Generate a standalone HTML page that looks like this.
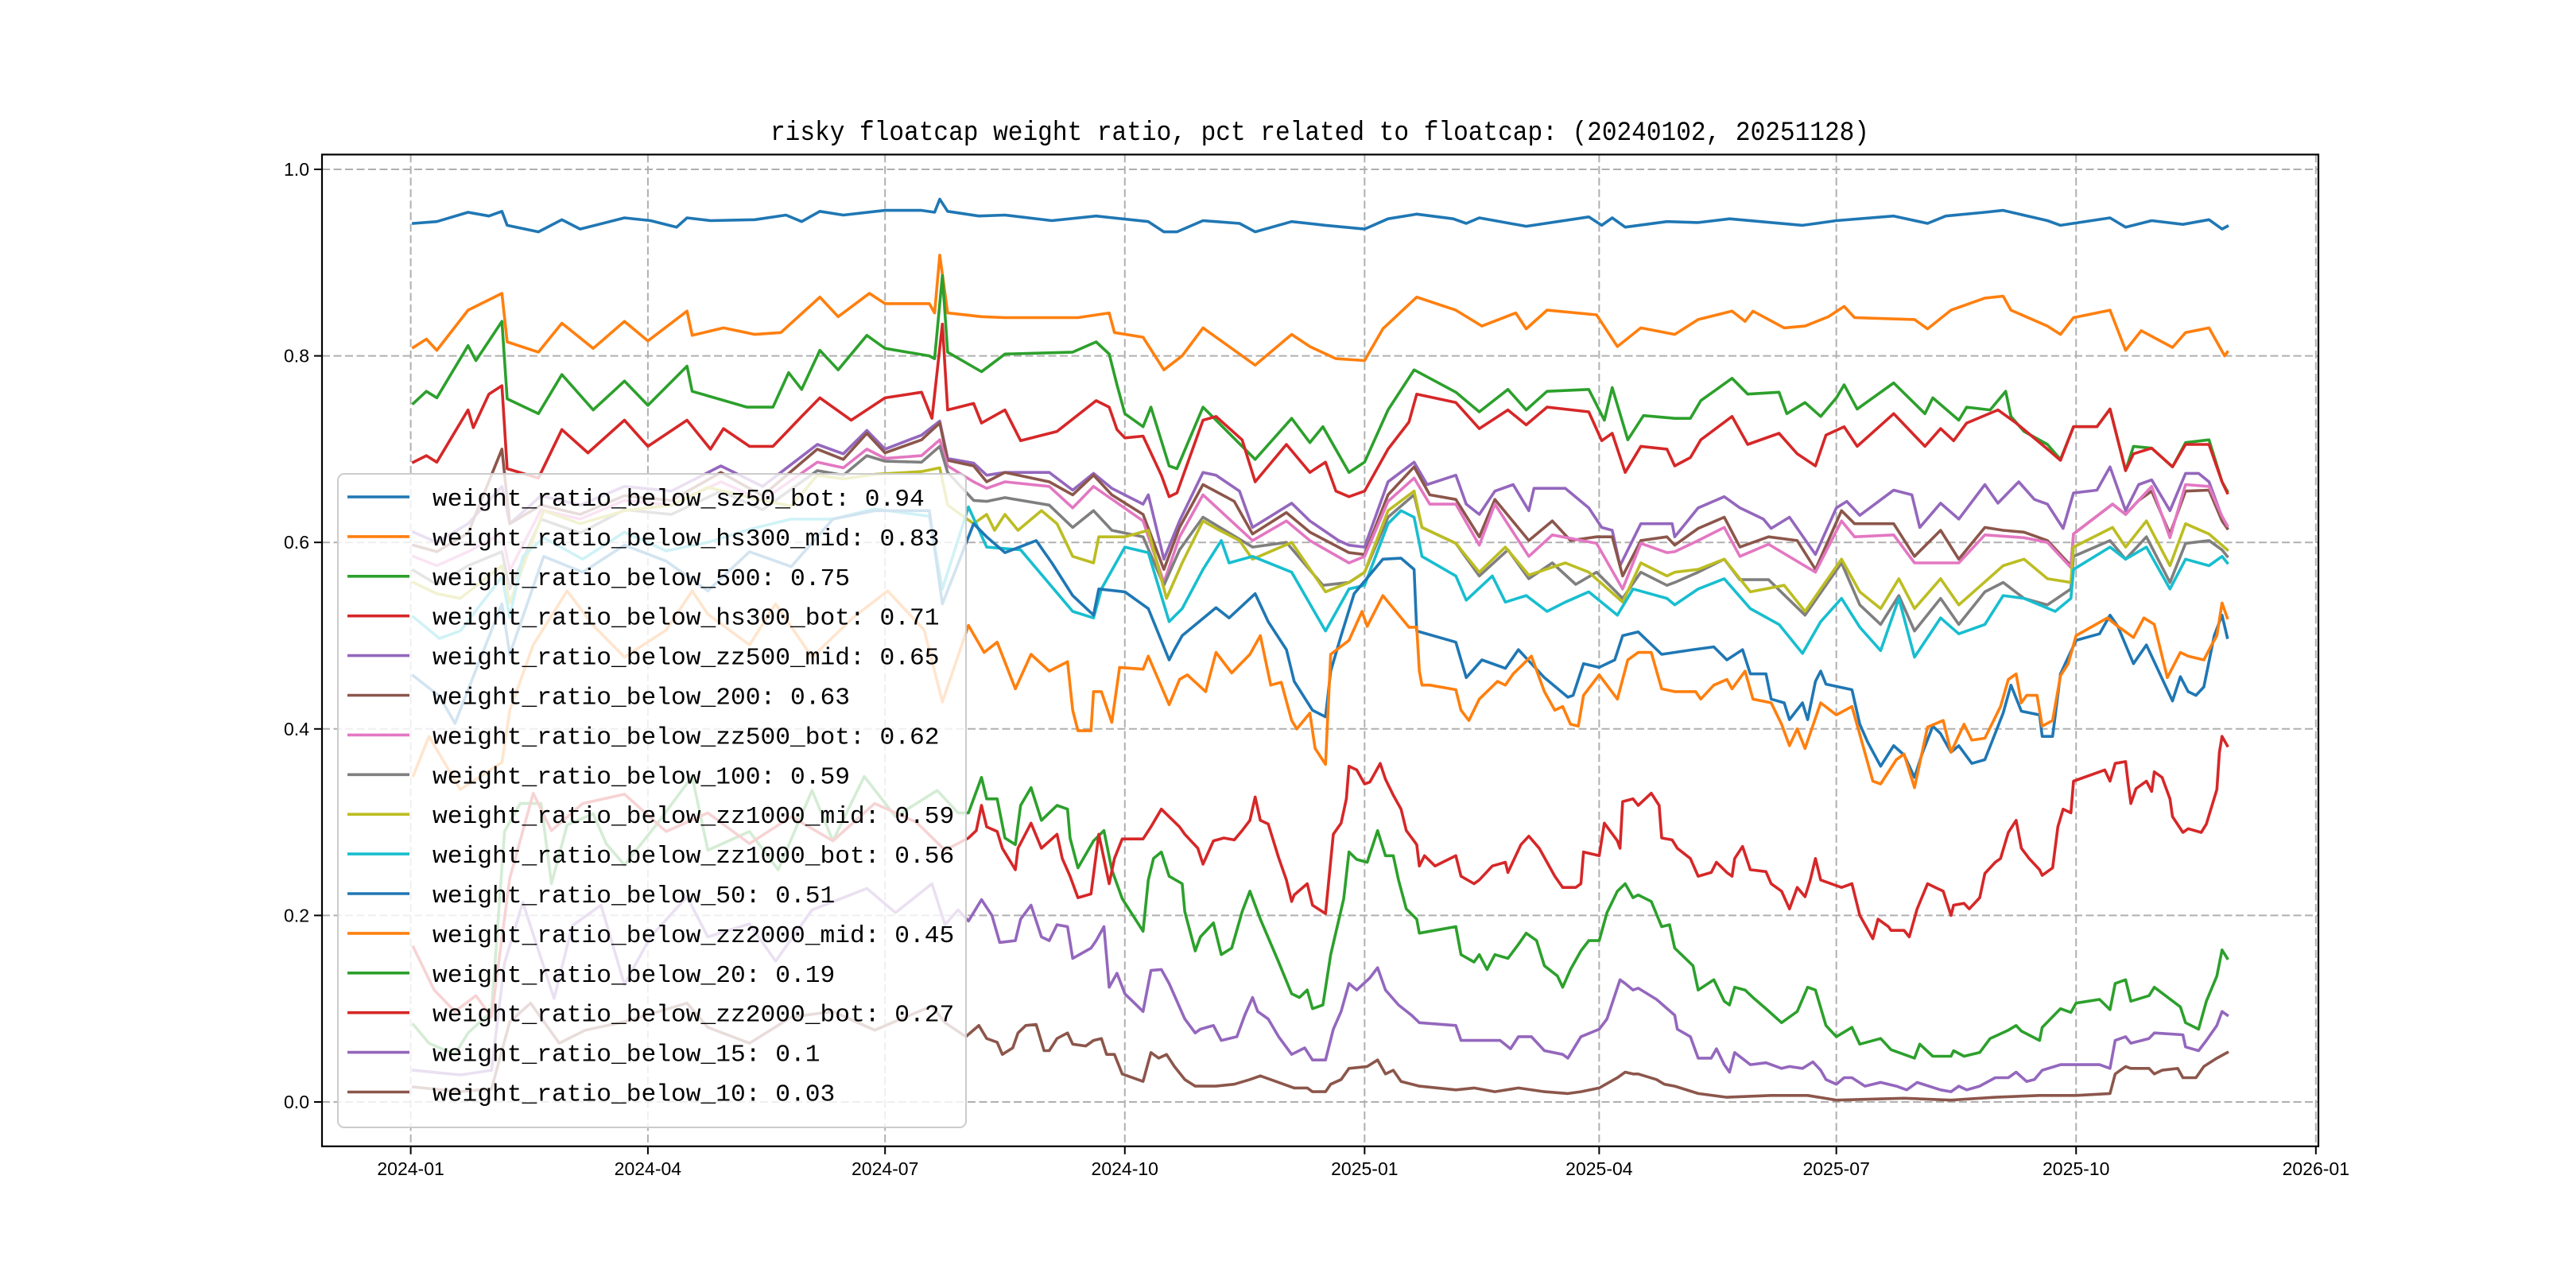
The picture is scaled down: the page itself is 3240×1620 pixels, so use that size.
<!DOCTYPE html>
<html><head><meta charset="utf-8"><title>risky floatcap weight ratio</title>
<style>html,body{margin:0;padding:0;background:#fff}svg{display:block}</style></head>
<body>
<svg id="chart" xmlns="http://www.w3.org/2000/svg" width="3240" height="1620" viewBox="0 0 3240 1620">
<rect x="0" y="0" width="3240" height="1620" fill="#fff"/>
<text x="1660" y="176" text-anchor="middle" font-family="Liberation Mono, monospace" font-size="34" textLength="1382" lengthAdjust="spacingAndGlyphs" fill="#000">risky floatcap weight ratio, pct related to floatcap: (20240102, 20251128)</text>
<g id="grid"></g>
<g id="series"></g>
<rect x="405" y="194.4" width="2511" height="1247.4" fill="none" stroke="#000" stroke-width="2.2"/>
<g id="ticks"></g>
<g id="legend"></g>
</svg>
<script>
const seriesNames = ["weight_ratio_below_sz50_bot","weight_ratio_below_hs300_mid","weight_ratio_below_500","weight_ratio_below_hs300_bot","weight_ratio_below_zz500_mid","weight_ratio_below_200","weight_ratio_below_zz500_bot","weight_ratio_below_100","weight_ratio_below_zz1000_mid","weight_ratio_below_zz1000_bot","weight_ratio_below_50","weight_ratio_below_zz2000_mid","weight_ratio_below_20","weight_ratio_below_zz2000_bot","weight_ratio_below_15","weight_ratio_below_10"];
const lastValues = ["0.94","0.83","0.75","0.71","0.65","0.63","0.62","0.59","0.59","0.56","0.51","0.45","0.19","0.27","0.1","0.03"];
const yTicks = [0.0,0.2,0.4,0.6,0.8,1.0];
const yTickLabels = ["0.0","0.2","0.4","0.6","0.8","1.0"];
const xTickDays = [0,91,182,274,366,456,547,639,731];
const xTickLabels = ["2024-01","2024-04","2024-07","2024-10","2025-01","2025-04","2025-07","2025-10","2026-01"];
// day offsets from 2024-01-01, value
const pts_sz50_bot = [[1,.942],[10,.944],[22,.954],[30,.95],[35,.955],[37,.94],[49,.933],[58,.946],[65,.936],[82,.948],[92,.945],[102,.938],[106,.948],[115,.945],[132,.946],[144,.951],[150,.944],[157,.955],[166,.951],[182,.956],[196,.956],[201,.954],[203,.968],[206,.955],[218,.95],[228,.951],[246,.945],[263,.95],[283,.944],[289,.933],[294,.933],[304,.945],[318,.942],[324,.933],[338,.944],[351,.94],[366,.936],[375,.947],[386,.952],[400,.947],[405,.942],[410,.948],[428,.939],[452,.949],[457,.94],[461,.948],[466,.938],[482,.944],[494,.943],[506,.947],[534,.94],[547,.945],[569,.95],[582,.942],[589,.95],[604,.954],[611,.956],[628,.945],[633,.94],[652,.948],[658,.938],[668,.945],[680,.941],[690,.946],[695,.936],[697,.939]];
const pts_hs300_mid = [[1,.809],[6,.818],[10,.806],[22,.849],[35,.867],[37,.815],[49,.804],[58,.835],[70,.808],[82,.837],[91,.816],[106,.848],[108,.822],[120,.83],[132,.823],[142,.825],[157,.863],[164,.842],[176,.867],[182,.856],[199,.856],[201,.846],[203,.908],[206,.846],[219,.842],[228,.841],[256,.841],[268,.846],[270,.825],[281,.82],[289,.785],[296,.80],[304,.83],[324,.79],[338,.823],[345,.81],[355,.797],[366,.795],[373,.829],[386,.863],[401,.849],[411,.832],[424,.846],[428,.829],[436,.849],[455,.844],[463,.81],[472,.83],[485,.823],[494,.839],[507,.848],[512,.837],[515,.848],[527,.83],[535,.832],[544,.842],[550,.853],[554,.841],[577,.839],[582,.829],[591,.849],[604,.862],[611,.864],[614,.849],[628,.832],[633,.823],[638,.841],[652,.849],[658,.806],[664,.827],[676,.809],[681,.825],[690,.83],[696,.80],[697,.804]];
const pts_500 = [[1,.749],[6,.762],[10,.755],[22,.811],[25,.795],[35,.837],[37,.754],[49,.738],[58,.78],[70,.742],[82,.773],[91,.747],[106,.789],[108,.762],[129,.745],[139,.745],[145,.782],[150,.764],[157,.806],[164,.785],[175,.822],[182,.808],[199,.80],[201,.797],[204,.886],[206,.804],[219,.783],[228,.802],[254,.804],[263,.815],[268,.802],[271,.769],[274,.738],[281,.724],[284,.745],[291,.682],[294,.679],[304,.745],[309,.731],[324,.689],[338,.733],[345,.707],[350,.724],[360,.675],[366,.686],[375,.742],[385,.785],[401,.761],[410,.74],[421,.764],[428,.742],[436,.762],[452,.764],[458,.731],[461,.766],[467,.71],[473,.736],[485,.733],[491,.733],[495,.752],[507,.776],[513,.759],[525,.761],[528,.738],[535,.75],[541,.735],[547,.755],[550,.769],[555,.743],[569,.771],[581,.738],[584,.755],[594,.731],[597,.745],[606,.742],[612,.762],[614,.735],[619,.719],[628,.705],[633,.689],[638,.724],[647,.724],[652,.743],[658,.677],[661,.703],[668,.701],[676,.681],[681,.707],[690,.71],[695,.665],[697,.655]];
const pts_hs300_bot = [[1,.686],[6,.693],[10,.686],[22,.742],[24,.723],[30,.759],[35,.768],[37,.679],[49,.669],[58,.721],[68,.696],[82,.731],[91,.703],[106,.731],[115,.70],[120,.722],[130,.703],[139,.703],[150,.735],[157,.755],[169,.731],[182,.755],[196,.761],[200,.733],[204,.834],[206,.742],[216,.749],[219,.728],[228,.742],[234,.709],[248,.719],[263,.752],[268,.745],[271,.721],[274,.712],[281,.714],[288,.672],[291,.649],[294,.653],[304,.731],[309,.735],[319,.71],[324,.665],[336,.705],[345,.675],[351,.686],[355,.655],[360,.649],[366,.655],[375,.70],[383,.729],[386,.759],[401,.75],[410,.722],[421,.742],[428,.726],[436,.745],[452,.74],[457,.709],[461,.717],[466,.675],[472,.703],[482,.70],[485,.682],[491,.691],[495,.71],[507,.735],[513,.705],[525,.717],[532,.695],[539,.682],[543,.715],[550,.724],[555,.703],[569,.738],[581,.703],[587,.722],[592,.709],[597,.728],[609,.742],[616,.728],[628,.70],[633,.688],[638,.724],[647,.724],[652,.743],[658,.677],[661,.695],[668,.701],[676,.681],[681,.705],[690,.705],[695,.665],[697,.653]];
const pts_zz500_mid = [[1,.611],[10,.60],[22,.62],[35,.66],[38,.62],[50,.65],[65,.64],[82,.66],[100,.655],[119,.682],[135,.66],[156,.705],[166,.695],[175,.72],[182,.70],[196,.715],[203,.73],[206,.69],[216,.685],[221,.672],[228,.675],[245,.675],[254,.656],[262,.674],[269,.658],[281,.641],[283,.651],[289,.582],[295,.623],[304,.675],[309,.672],[318,.655],[323,.616],[338,.642],[345,.623],[356,.602],[360,.597],[366,.595],[375,.665],[385,.686],[390,.662],[401,.672],[405,.641],[410,.63],[416,.655],[423,.662],[429,.634],[431,.658],[443,.658],[452,.637],[457,.616],[461,.613],[464,.575],[472,.62],[484,.62],[485,.606],[494,.637],[504,.649],[510,.637],[519,.625],[522,.615],[529,.627],[539,.587],[547,.637],[551,.644],[556,.629],[569,.656],[576,.651],[579,.616],[587,.642],[594,.625],[604,.662],[609,.642],[617,.665],[623,.646],[628,.641],[634,.615],[638,.653],[647,.656],[652,.681],[658,.634],[663,.662],[668,.667],[675,.634],[681,.674],[686,.674],[690,.665],[695,.627],[697,.615]];
const pts_200 = [[1,.597],[10,.59],[22,.61],[35,.70],[38,.62],[50,.64],[65,.63],[82,.65],[100,.645],[119,.675],[135,.65],[156,.70],[166,.689],[175,.717],[182,.696],[196,.71],[203,.728],[206,.688],[216,.682],[221,.665],[228,.675],[245,.665],[254,.651],[262,.672],[269,.651],[281,.63],[289,.571],[295,.616],[304,.662],[316,.644],[323,.609],[336,.632],[345,.611],[360,.589],[366,.587],[375,.651],[385,.681],[391,.651],[401,.646],[410,.606],[416,.646],[429,.602],[438,.623],[445,.602],[455,.606],[461,.606],[465,.564],[472,.602],[482,.606],[485,.597],[494,.615],[504,.627],[510,.595],[521,.606],[532,.602],[539,.571],[549,.634],[554,.62],[569,.62],[577,.585],[587,.613],[594,.582],[604,.616],[611,.613],[619,.611],[628,.602],[637,.575],[638,.609],[653,.641],[658,.63],[663,.645],[668,.655],[675,.609],[681,.655],[690,.656],[695,.623],[697,.615]];
const pts_zz500_bot = [[1,.585],[10,.575],[22,.59],[35,.61],[38,.57],[50,.635],[65,.625],[82,.645],[100,.64],[119,.665],[135,.645],[156,.686],[166,.68],[175,.70],[182,.69],[196,.693],[203,.71],[206,.682],[216,.665],[221,.658],[228,.665],[245,.66],[254,.637],[262,.66],[281,.623],[289,.557],[295,.606],[304,.651],[323,.602],[336,.623],[345,.602],[360,.578],[366,.585],[375,.644],[385,.669],[391,.641],[401,.641],[410,.597],[416,.641],[429,.585],[438,.608],[455,.599],[465,.55],[472,.599],[482,.589],[485,.59],[494,.602],[504,.616],[510,.585],[521,.598],[539,.568],[549,.623],[554,.606],[569,.608],[577,.578],[594,.578],[604,.608],[619,.605],[628,.60],[637,.573],[638,.609],[653,.641],[658,.63],[663,.645],[668,.66],[675,.605],[681,.662],[690,.66],[695,.628],[697,.618]];
const pts_100 = [[1,.57],[10,.555],[22,.575],[35,.59],[38,.55],[50,.625],[65,.61],[82,.635],[100,.63],[119,.655],[135,.635],[156,.677],[166,.672],[175,.693],[182,.687],[196,.686],[203,.703],[206,.675],[216,.645],[221,.644],[228,.648],[245,.64],[254,.616],[262,.634],[269,.613],[281,.606],[289,.554],[295,.592],[304,.627],[323,.595],[336,.60],[350,.554],[360,.557],[366,.568],[375,.627],[385,.651],[388,.616],[401,.599],[410,.564],[421,.592],[429,.561],[438,.578],[447,.555],[455,.568],[465,.54],[472,.568],[482,.554],[485,.557],[494,.568],[504,.582],[510,.56],[521,.56],[535,.522],[549,.578],[556,.533],[564,.512],[571,.543],[577,.505],[587,.54],[594,.512],[604,.547],[611,.557],[619,.54],[628,.533],[637,.55],[638,.585],[652,.602],[658,.582],[666,.606],[675,.557],[681,.599],[690,.602],[695,.592],[697,.585]];
const pts_zz1000_mid = [[1,.557],[10,.545],[19,.54],[35,.575],[38,.535],[51,.634],[65,.62],[82,.634],[100,.64],[114,.659],[135,.645],[146,.639],[156,.672],[166,.668],[178,.673],[196,.676],[203,.68],[206,.64],[216,.62],[221,.63],[224,.613],[228,.63],[233,.613],[242,.634],[248,.62],[254,.585],[262,.578],[264,.606],[274,.606],[283,.613],[290,.54],[296,.578],[304,.623],[309,.615],[318,.602],[323,.582],[338,.60],[351,.547],[360,.557],[366,.568],[375,.634],[385,.655],[388,.616],[401,.599],[410,.568],[420,.595],[429,.565],[443,.578],[452,.568],[465,.536],[472,.578],[482,.564],[485,.568],[494,.571],[504,.582],[514,.547],[527,.554],[535,.526],[549,.582],[556,.547],[564,.529],[571,.561],[577,.529],[587,.561],[594,.533],[611,.575],[619,.582],[628,.561],[637,.557],[638,.595],[653,.616],[658,.595],[666,.623],[675,.575],[681,.62],[690,.609],[697,.592]];
const pts_zz1000_bot = [[1,.52],[11,.497],[19,.505],[35,.563],[38,.52],[43,.585],[51,.605],[66,.582],[82,.611],[98,.591],[114,.60],[130,.614],[146,.625],[162,.625],[178,.636],[199,.628],[204,.55],[214,.638],[221,.595],[234,.592],[254,.526],[262,.519],[265,.55],[274,.595],[283,.589],[291,.515],[296,.529],[304,.571],[311,.602],[314,.578],[323,.585],[338,.568],[351,.505],[360,.55],[366,.554],[375,.62],[380,.634],[385,.627],[388,.585],[401,.564],[405,.538],[415,.564],[420,.536],[428,.543],[436,.526],[443,.536],[452,.547],[463,.522],[469,.55],[482,.54],[485,.533],[494,.55],[504,.561],[514,.529],[525,.512],[534,.481],[541,.515],[549,.54],[556,.509],[564,.484],[571,.54],[577,.477],[587,.519],[594,.502],[604,.512],[611,.543],[619,.54],[631,.526],[637,.54],[638,.571],[652,.595],[658,.582],[666,.595],[675,.55],[681,.582],[690,.575],[695,.585],[697,.578]];
const pts_50 = [[1,.457],[11,.435],[17,.406],[23,.449],[35,.534],[38,.48],[51,.585],[66,.568],[82,.597],[98,.58],[114,.548],[130,.59],[146,.574],[162,.625],[178,.634],[199,.634],[204,.534],[216,.62],[221,.606],[228,.589],[240,.602],[246,.578],[254,.543],[262,.522],[264,.55],[274,.547],[283,.529],[291,.474],[293,.485],[296,.50],[309,.53],[314,.519],[324,.545],[329,.515],[336,.485],[339,.451],[346,.42],[351,.413],[353,.462],[357,.50],[362,.545],[373,.582],[380,.583],[385,.571],[386,.505],[401,.493],[405,.455],[411,.474],[420,.465],[425,.485],[430,.47],[435,.455],[444,.434],[446,.436],[450,.47],[456,.466],[462,.474],[465,.50],[471,.504],[480,.48],[492,.485],[500,.488],[505,.474],[511,.485],[514,.459],[520,.459],[522,.432],[527,.428],[529,.41],[534,.428],[536,.41],[539,.451],[541,.462],[543,.448],[553,.442],[556,.405],[559,.386],[564,.36],[569,.382],[573,.372],[577,.348],[580,.374],[584,.403],[587,.395],[591,.375],[594,.382],[599,.363],[604,.367],[611,.417],[614,.447],[618,.419],[625,.415],[626,.392],[630,.392],[633,.459],[639,.495],[648,.502],[652,.522],[655,.51],[661,.47],[666,.49],[676,.43],[679,.456],[682,.44],[685,.436],[688,.445],[692,.50],[695,.522],[697,.498]];
const pts_zz2000_mid = [[1,.35],[7,.392],[19,.335],[35,.364],[38,.42],[47,.49],[60,.548],[70,.511],[82,.477],[98,.506],[108,.548],[114,.523],[130,.49],[140,.534],[154,.477],[170,.52],[183,.548],[197,.506],[204,.429],[214,.511],[220,.482],[225,.493],[232,.443],[238,.48],[245,.462],[252,.472],[254,.42],[256,.398],[261,.398],[262,.44],[265,.44],[269,.407],[272,.466],[281,.464],[283,.478],[291,.426],[295,.453],[298,.458],[305,.44],[309,.482],[315,.46],[322,.48],[326,.50],[330,.447],[334,.45],[338,.409],[340,.40],[345,.417],[347,.379],[351,.362],[353,.48],[360,.495],[365,.526],[367,.51],[373,.543],[378,.526],[383,.509],[386,.509],[387,.462],[388,.447],[391,.447],[401,.442],[403,.42],[406,.409],[410,.432],[417,.451],[420,.447],[423,.459],[430,.478],[435,.44],[439,.42],[442,.424],[445,.405],[448,.403],[450,.436],[456,.458],[463,.432],[467,.474],[471,.482],[476,.482],[480,.443],[485,.44],[493,.44],[495,.432],[500,.447],[505,.453],[507,.443],[512,.462],[515,.432],[522,.428],[526,.405],[529,.382],[532,.40],[535,.379],[541,.428],[547,.415],[553,.424],[556,.394],[561,.344],[564,.341],[570,.367],[573,.373],[577,.337],[582,.402],[588,.409],[591,.375],[596,.405],[599,.388],[604,.39],[610,.424],[613,.453],[616,.459],[618,.428],[620,.436],[624,.436],[626,.403],[630,.409],[633,.457],[636,.47],[639,.50],[651,.519],[655,.51],[661,.498],[665,.519],[669,.512],[674,.455],[679,.482],[682,.478],[688,.474],[691,.49],[693,.50],[695,.535],[697,.519]];
const pts_20 = [[1,.083],[7,.063],[17,.051],[22,.074],[31,.097],[36,.29],[42,.32],[50,.32],[54,.234],[60,.297],[70,.309],[75,.277],[82,.254],[95,.30],[108,.349],[114,.27],[130,.29],[141,.249],[154,.334],[162,.28],[174,.349],[186,.306],[202,.334],[210,.31],[214,.31],[219,.348],[221,.325],[225,.325],[228,.283],[232,.276],[234,.318],[238,.337],[242,.302],[248,.318],[252,.314],[253,.283],[256,.251],[262,.28],[266,.291],[269,.249],[273,.218],[281,.183],[283,.238],[285,.261],[288,.268],[291,.242],[296,.234],[297,.204],[301,.162],[303,.177],[308,.192],[311,.158],[315,.165],[319,.204],[322,.226],[326,.196],[333,.15],[338,.116],[341,.112],[344,.12],[346,.10],[350,.104],[353,.158],[358,.218],[360,.268],[363,.26],[367,.257],[371,.291],[374,.264],[377,.264],[379,.238],[382,.207],[386,.196],[387,.181],[393,.184],[401,.188],[403,.158],[408,.15],[410,.158],[413,.142],[416,.158],[421,.154],[425,.169],[428,.181],[432,.173],[435,.146],[440,.135],[442,.123],[445,.142],[449,.162],[452,.173],[456,.173],[459,.203],[463,.226],[466,.234],[469,.219],[471,.222],[476,.215],[480,.188],[483,.19],[485,.165],[492,.146],[494,.12],[500,.131],[504,.108],[506,.104],[508,.123],[512,.12],[515,.112],[520,.10],[526,.085],[532,.097],[536,.123],[539,.12],[543,.082],[547,.07],[553,.08],[556,.062],[564,.068],[568,.056],[577,.047],[579,.062],[584,.049],[591,.049],[592,.055],[596,.049],[602,.053],[606,.068],[613,.077],[616,.082],[618,.076],[625,.066],[626,.08],[633,.10],[637,.096],[639,.106],[648,.11],[652,.099],[654,.127],[658,.131],[660,.108],[667,.114],[669,.123],[679,.102],[681,.085],[686,.078],[689,.108],[693,.135],[695,.163],[697,.154]];
const pts_zz2000_bot = [[1,.166],[9,.12],[17,.097],[25,.114],[31,.091],[38,.24],[47,.331],[54,.291],[66,.32],[82,.33],[98,.29],[114,.31],[130,.277],[146,.306],[162,.28],[178,.32],[194,.30],[205,.27],[214,.283],[217,.291],[219,.318],[221,.295],[225,.29],[227,.272],[232,.249],[233,.272],[238,.299],[242,.272],[248,.287],[250,.261],[253,.242],[256,.219],[261,.223],[264,.287],[268,.234],[270,.261],[273,.282],[281,.282],[284,.295],[288,.314],[295,.295],[297,.287],[302,.272],[304,.255],[308,.28],[312,.283],[316,.281],[319,.291],[322,.302],[324,.327],[326,.302],[329,.298],[333,.262],[336,.238],[338,.215],[339,.222],[344,.234],[346,.211],[351,.202],[354,.287],[357,.299],[359,.325],[360,.36],[363,.356],[366,.341],[368,.343],[372,.363],[374,.346],[377,.329],[380,.314],[382,.291],[386,.276],[387,.253],[389,.264],[393,.253],[401,.264],[403,.242],[408,.234],[410,.238],[415,.253],[420,.257],[421,.246],[426,.276],[429,.285],[433,.272],[436,.257],[439,.242],[442,.23],[447,.23],[449,.234],[450,.268],[456,.264],[458,.299],[463,.28],[464,.272],[465,.322],[469,.325],[471,.318],[476,.331],[479,.318],[480,.283],[484,.281],[486,.272],[491,.261],[494,.242],[499,.246],[501,.257],[505,.246],[507,.242],[508,.261],[511,.274],[514,.249],[520,.247],[522,.234],[526,.226],[529,.207],[532,.23],[535,.22],[537,.238],[539,.261],[541,.238],[543,.236],[549,.23],[553,.234],[556,.20],[561,.175],[563,.196],[567,.188],[568,.184],[573,.184],[575,.177],[578,.207],[582,.234],[585,.23],[588,.226],[591,.20],[592,.211],[596,.213],[598,.207],[602,.219],[604,.245],[608,.257],[610,.261],[613,.289],[616,.302],[618,.272],[621,.261],[625,.249],[626,.243],[630,.251],[632,.295],[634,.314],[637,.31],[638,.344],[650,.356],[652,.344],[654,.363],[658,.365],[659,.341],[660,.32],[662,.336],[666,.344],[668,.333],[669,.354],[672,.348],[675,.325],[676,.306],[680,.289],[682,.293],[687,.289],[689,.298],[693,.335],[694,.375],[695,.392],[697,.382]];
const pts_15 = [[1,.034],[19,.029],[31,.034],[36,.149],[43,.214],[55,.111],[62,.189],[73,.211],[82,.126],[92,.177],[106,.22],[114,.177],[130,.191],[140,.151],[154,.206],[175,.229],[186,.203],[200,.234],[205,.19],[210,.206],[214,.194],[219,.217],[223,.20],[226,.171],[232,.173],[234,.196],[238,.211],[242,.177],[245,.173],[248,.19],[252,.188],[254,.154],[261,.165],[263,.173],[266,.188],[268,.123],[271,.138],[274,.116],[281,.097],[284,.141],[288,.142],[291,.127],[297,.089],[301,.074],[303,.078],[308,.082],[311,.066],[317,.07],[320,.093],[323,.112],[325,.097],[329,.089],[333,.07],[338,.051],[343,.058],[346,.045],[351,.045],[354,.078],[357,.097],[360,.127],[363,.12],[368,.133],[371,.144],[374,.12],[379,.104],[384,.093],[387,.085],[401,.082],[403,.066],[411,.066],[418,.066],[422,.057],[425,.07],[430,.07],[435,.055],[442,.051],[444,.047],[449,.07],[456,.078],[459,.089],[464,.131],[466,.127],[469,.12],[471,.122],[478,.11],[485,.093],[486,.078],[491,.07],[494,.047],[499,.047],[501,.057],[504,.04],[506,.032],[508,.053],[514,.04],[520,.042],[526,.036],[529,.038],[534,.036],[538,.043],[541,.034],[543,.024],[547,.019],[550,.026],[553,.026],[558,.017],[564,.021],[570,.017],[574,.013],[578,.021],[587,.013],[591,.011],[594,.017],[597,.013],[602,.017],[608,.026],[613,.026],[616,.032],[620,.022],[623,.024],[626,.034],[633,.04],[639,.04],[648,.04],[652,.036],[654,.066],[658,.07],[660,.063],[667,.068],[669,.074],[680,.072],[681,.059],[686,.055],[689,.066],[693,.082],[695,.097],[697,.093]];
const pts_10 = [[1,.016],[19,.011],[31,.014],[38,.086],[46,.106],[57,.063],[67,.077],[82,.086],[106,.106],[114,.08],[130,.063],[146,.091],[162,.097],[178,.077],[200,.103],[205,.085],[213,.07],[218,.082],[221,.068],[225,.064],[227,.051],[231,.058],[233,.074],[236,.082],[240,.083],[243,.055],[245,.055],[248,.068],[252,.074],[254,.062],[259,.06],[262,.066],[265,.068],[267,.051],[270,.051],[273,.03],[281,.022],[284,.053],[287,.047],[290,.051],[293,.038],[297,.024],[301,.017],[309,.017],[316,.019],[322,.024],[326,.028],[333,.021],[339,.015],[344,.015],[346,.011],[351,.011],[353,.019],[357,.024],[360,.036],[367,.038],[371,.045],[374,.03],[377,.034],[380,.022],[387,.017],[401,.013],[408,.015],[416,.011],[425,.015],[435,.011],[444,.009],[449,.011],[456,.015],[463,.026],[466,.032],[469,.03],[471,.03],[478,.024],[481,.019],[485,.017],[494,.009],[505,.005],[522,.007],[536,.007],[547,.002],[573,.004],[591,.002],[608,.005],[625,.007],[639,.007],[652,.009],[654,.03],[658,.038],[660,.036],[667,.036],[669,.03],[672,.034],[678,.036],[680,.026],[685,.026],[688,.038],[693,.047],[697,.053]];

const seriesData = [pts_sz50_bot,pts_hs300_mid,pts_500,pts_hs300_bot,pts_zz500_mid,pts_200,pts_zz500_bot,pts_100,pts_zz1000_mid,pts_zz1000_bot,pts_50,pts_zz2000_mid,pts_20,pts_zz2000_bot,pts_15,pts_10];
const seriesKeys = ["sz50-bot","hs300-mid","500","hs300-bot","zz500-mid","200","zz500-bot","100","zz1000-mid","zz1000-bot","50","zz2000-mid","20","zz2000-bot","15","10"];
const palette = ["#1f77b4","#ff7f0e","#2ca02c","#d62728","#9467bd","#8c564b","#e377c2","#7f7f7f","#bcbd22","#17becf","#1f77b4","#ff7f0e","#2ca02c","#d62728","#9467bd","#8c564b"];

const NS = "http://www.w3.org/2000/svg";
const AX = {left:405, right:2916, top:194.4, bottom:1441.8};
const X0 = 516.6, XPD = 3.278;
function xScale(d){ return X0 + d*XPD; }
function yScale(v){ return 1386 - v*1173; }
function mk(tag, attrs, parent){
  const el = document.createElementNS(NS, tag);
  for (const k in attrs) el.setAttribute(k, attrs[k]);
  parent.appendChild(el);
  return el;
}
const grid = document.getElementById('grid');
const ticks = document.getElementById('ticks');
yTicks.forEach((v,i)=>{
  const y = yScale(v);
  const gl = mk('line',{x1:AX.left,x2:AX.right,y1:y,y2:y,stroke:'#b0b0b0','stroke-width':2,'stroke-dasharray':'10,4.5'},grid);
  
  
  const tk = mk('line',{x1:AX.left-10,x2:AX.left,y1:y,y2:y,stroke:'#000','stroke-width':2},ticks);
  
  
  const t = mk('text',{x:AX.left-16,y:y+8,'text-anchor':'end','font-family':'Liberation Sans, sans-serif','font-size':23,fill:'#000'},ticks);
  t.textContent = yTickLabels[i];
  
  
});
xTickDays.forEach((d,i)=>{
  const x = xScale(d);
  const gl = mk('line',{x1:x,x2:x,y1:AX.top,y2:AX.bottom,stroke:'#b0b0b0','stroke-width':2,'stroke-dasharray':'10,4.5'},grid);
  
  
  const tk = mk('line',{x1:x,x2:x,y1:AX.bottom,y2:AX.bottom+10,stroke:'#000','stroke-width':2},ticks);
  
  
  const t = mk('text',{x:x,y:AX.bottom+36,'text-anchor':'middle','font-family':'Liberation Sans, sans-serif','font-size':23,fill:'#000'},ticks);
  t.textContent = xTickLabels[i];
  
  
});
const sg = document.getElementById('series');
seriesData.forEach((pts,i)=>{
  const d = pts.map((p,j)=>(j?'L':'M')+xScale(p[0]).toFixed(1)+','+yScale(p[1]).toFixed(1)).join('');
  const path = mk('path',{d:d,fill:'none',stroke:palette[i],'stroke-width':3.6,'stroke-linejoin':'round','stroke-linecap':'square'},sg);
  
  
});
const lg = document.getElementById('legend');
const box = mk('rect',{x:425,y:596,width:790,height:822,rx:8,ry:8,fill:'#fff','fill-opacity':0.8,stroke:'#cccccc','stroke-width':2},lg);


seriesNames.forEach((n,i)=>{
  const y = 625 + i*49.9;
  const ln = mk('line',{x1:437,x2:515,y1:y,y2:y,stroke:palette[i],'stroke-width':3.6},lg);
  
  
  const label = n+': '+lastValues[i];
  const t = mk('text',{x:544,y:y+11,'font-family':'Liberation Mono, monospace','font-size':31,fill:'#000',textLength:(label.length*18.75).toFixed(1),lengthAdjust:'spacingAndGlyphs'},lg);
  t.textContent = label;
  
  
});
</script>
</body></html>
